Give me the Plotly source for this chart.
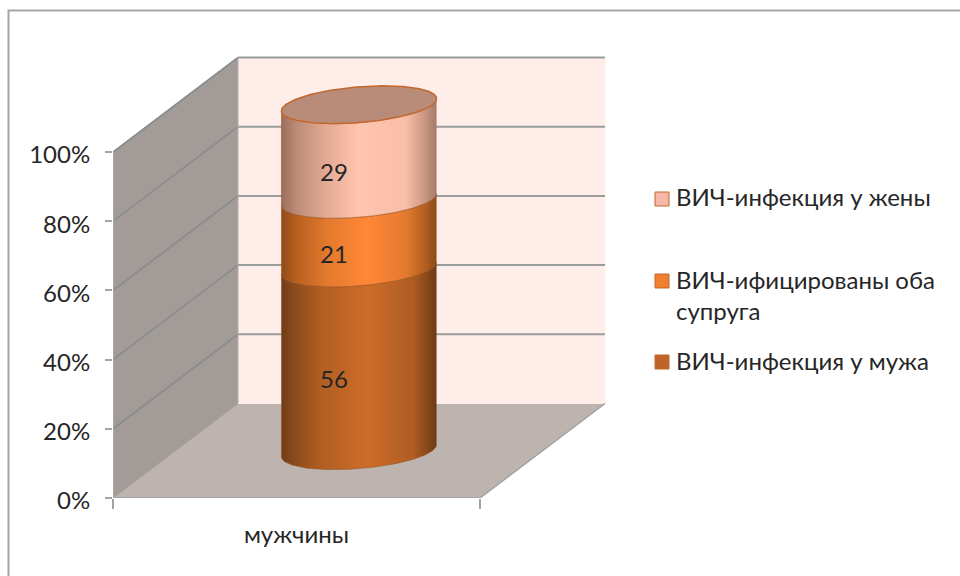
import numpy as np
import plotly.graph_objects as go

# Chart data
categories = ["мужчины"]
series_names = ["ВИЧ-инфекция у мужа", "ВИЧ-ифицированы оба супруга", "ВИЧ-инфекция у жены"]
series_values = [56, 21, 29]
y_ticks = [0, 20, 40, 60, 80, 100]
y_tick_labels = ["0%", "20%", "40%", "60%", "80%", "100%"]

# Oblique projection of the 3D box onto the 2D axes
W, H = 960, 576
LEFT_PX, RIGHT_PX, BASE_PX, TOP_PX = 113, 480, 498, 152
PX_PER_X = RIGHT_PX - LEFT_PX
PX_PER_PCT = (BASE_PX - TOP_PX) / 100
DEPTH_X = 125 / PX_PER_X
DEPTH_Y = 94.5 / PX_PER_PCT
RADIUS = 0.2
LABEL_DROP = 4 / PX_PER_PCT
FONT = "Lato"
FONT_SIZE = 24
TEXT = "#262626"


def project(x, depth, pct):
    return np.asarray(x) + np.asarray(depth) * DEPTH_X, np.asarray(pct) + np.asarray(depth) * DEPTH_Y


def poly(fig, corners, color, line=None):
    xs, ys = project(*zip(*corners))
    fig.add_trace(go.Scatter(
        x=xs, y=ys, mode="lines", fill="toself", fillcolor=color,
        line=dict(color=line or color, width=1), cliponaxis=False,
        hoverinfo="skip", showlegend=False))


def segment(x, depth, pct, color, width=1.5):
    xs, ys = project(x, depth, pct)
    fig.add_trace(go.Scatter(
        x=xs, y=ys, mode="lines", line=dict(color=color, width=width),
        cliponaxis=False, hoverinfo="skip", showlegend=False))


fig = go.Figure()

# Walls and floor
poly(fig, [(0, 0, 0), (1, 0, 0), (1, 1, 0), (0, 1, 0)], "#BDB3AF")
poly(fig, [(0, 0, 0), (0, 1, 0), (0, 1, 100), (0, 0, 100)], "#A39B98")
poly(fig, [(0, 1, 0), (1, 1, 0), (1, 1, 100), (0, 1, 100)], "#FEEDE9")

# Gridlines across the side and back walls
for t in y_ticks:
    if t > 0:
        segment([0, 0], [0, 1], [t, t], "#868D8B", 1.6)
        segment([0, 1], [1, 1], [t, t], "#9A9D9C", 2)
segment([0, 1], [0, 0], [0, 0], "#A3A3A3")
segment([1, 1], [0, 1], [0, 0], "#A3A3A3")
segment([0, 0], [1, 1], [0, 100], "#B5ADAA", 1)
segment([0, 0], [0, 0], [0, 100], "#B8B8B8", 1)

# Stacked cylinder, one gradient band per series
totals = np.cumsum([0] + series_values) / sum(series_values) * 100
gradients = [
    [(0, "#723C16"), (0.08, "#8A4A1C"), (0.25, "#B05E22"), (0.55, "#CE6C2A"), (0.85, "#AE5D23"), (1, "#6E3A14")],
    [(0, "#8E4C1B"), (0.1, "#B9601F"), (0.3, "#E47A2E"), (0.55, "#FF8736"), (0.8, "#E47A30"), (0.92, "#B4601F"), (1, "#8C4A19")],
    [(0, "#9A6E5C"), (0.1, "#BD8C78"), (0.3, "#E5AB95"), (0.5, "#FFC5AF"), (0.8, "#F9BEA9"), (0.92, "#CB9885"), (1, "#A67A68")],
]
swatches = ["#C0622A", "#F07F30", "#F5B9A5"]
edge = "#C4672C"

cx, cd = 0.5, 0.5
a = RADIUS
b = RADIUS
t0 = np.arctan2(b * DEPTH_X, a)  # silhouette angle of the tilted ellipse
front = np.linspace(t0, t0 - np.pi, 120)


def ring(theta):
    return cx + a * np.cos(theta), cd + b * np.sin(theta)


for low, high, stops in zip(totals[:-1], totals[1:], gradients):
    rx, rd = ring(front)
    xs_low, ys_low = project(rx, rd, np.full_like(rx, low))
    xs_high, ys_high = project(rx, rd, np.full_like(rx, high))
    fig.add_trace(go.Scatter(
        x=np.r_[xs_low, xs_high[::-1]], y=np.r_[ys_low, ys_high[::-1]],
        mode="lines", fill="toself",
        fillgradient=dict(type="horizontal", colorscale=stops),
        line=dict(color="rgba(150,80,30,0.55)", width=1), cliponaxis=False,
        hoverinfo="skip", showlegend=False))

# Cap of the cylinder
rx, rd = ring(np.linspace(0, 2 * np.pi, 200))
xs, ys = project(rx, rd, np.full_like(rx, 100.0))
fig.add_trace(go.Scatter(
    x=xs, y=ys, mode="lines", fill="toself", fillcolor="#B88C79",
    line=dict(color=edge, width=1.5), cliponaxis=False,
    hoverinfo="skip", showlegend=False))

# Value labels sit on the front face of each band
mids = (totals[:-1] + totals[1:]) / 2
lx, ly = project(np.full(3, cx), np.full(3, cd - RADIUS), mids - LABEL_DROP)
fig.add_trace(go.Scatter(
    x=lx, y=ly, mode="text", text=[str(v) for v in series_values],
    textposition="middle center", textfont=dict(family=FONT, size=FONT_SIZE, color=TEXT),
    cliponaxis=False, hoverinfo="skip", showlegend=False))

# Outer frame of the chart area
fig.add_shape(type="path", xref="paper", yref="paper",
              path=f"M {8.5 / W} 0 L {8.5 / W} {1 - 10.5 / H} L 1 {1 - 10.5 / H}",
              line=dict(color="#A6A6A6", width=2), layer="below")

# Legend entries
legend_rows = [
    (199, ["ВИЧ-инфекция у жены"], swatches[2]),
    (281, ["ВИЧ-ифицированы оба", "супруга"], swatches[1]),
    (362, ["ВИЧ-инфекция у мужа"], swatches[0]),
]
for row_y, lines, colour in legend_rows:
    fig.add_shape(type="rect", xref="paper", yref="paper",
                  x0=655 / W, x1=669 / W, y0=1 - (row_y + 7) / H, y1=1 - (row_y - 7) / H,
                  fillcolor=colour, line=dict(color=edge, width=1))
    for i, line_text in enumerate(lines):
        fig.add_annotation(xref="paper", yref="paper", x=675 / W, y=1 - (row_y - 2 + i * 31) / H,
                           text=line_text, showarrow=False, xanchor="left", yanchor="middle",
                           borderpad=0, font=dict(family=FONT, size=FONT_SIZE, color=TEXT))

fig.update_layout(
    width=W, height=H, margin=dict(l=0, r=0, t=0, b=0),
    paper_bgcolor="white", plot_bgcolor="rgba(0,0,0,0)",
    font=dict(family=FONT, size=FONT_SIZE, color=TEXT),
    xaxis=dict(domain=[LEFT_PX / W, 1], range=[0, (W - LEFT_PX) / PX_PER_X], automargin=False,
               tickvals=[0.5], ticktext=categories, ticks="", showgrid=False,
               zeroline=False, showline=False, ticklabelstandoff=20,
               minor=dict(tickvals=[0, 1], ticks="outside", ticklen=10, tickcolor="#A3A3A3", tickwidth=1.5, showgrid=False)),
    yaxis=dict(domain=[(H - BASE_PX) / H, 1], range=[0, BASE_PX / PX_PER_PCT], automargin=False,
               tickvals=y_ticks, ticktext=y_tick_labels, ticks="outside", ticklen=7,
               tickcolor="#A3A3A3", tickwidth=1.5, showgrid=False, zeroline=False,
               showline=False, ticklabelstandoff=10, ticklabelshift=3),
)

fig.write_html("out.html")
